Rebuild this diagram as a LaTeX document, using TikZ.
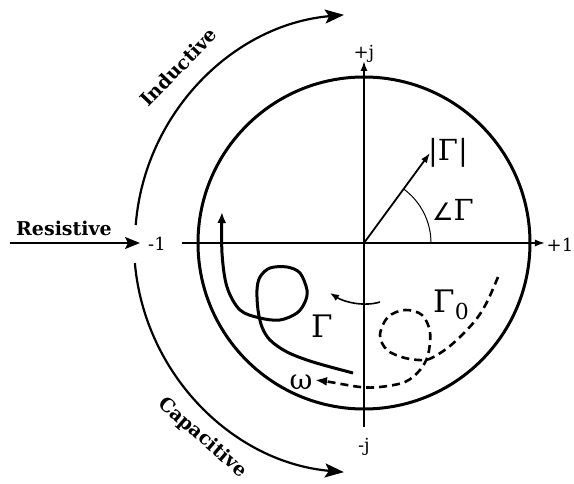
\documentclass[tikz,border=0pt]{standalone}
\usepackage{fontspec}
\setmainfont{DejaVu Serif}
\newfontfamily\symf{DejaVu Sans}
\usetikzlibrary{arrows.meta}
\tikzset{
  axis/.style={line width=1.6pt,-{Latex[length=10pt,width=7pt]}},
  bigarc/.style={line width=2.2pt,-{Stealth[length=19pt,width=14pt,inset=4pt]}},
  lbl/.style={inner sep=0pt,font=\fontsize{18}{20}\selectfont},
  bold/.style={inner sep=0pt,font=\fontsize{19}{21}\selectfont\bfseries},
  glbl/.style={inner sep=0pt,font=\fontsize{31}{34}\selectfont},
  curve/.style={line width=3pt,-{Latex[length=11pt,width=9pt]}},
}
\begin{document}
\begin{tikzpicture}[x=1pt,y=1pt]
\useasboundingbox (-364,-241) rectangle (210,243);
\coordinate (O) at (0,0);
% unit circle
\draw[line width=3pt] (O) circle[radius=166];
% axes
\coordinate (xl) at (-182,0);
\coordinate (xr) at (181,0);
\coordinate (yb) at (0,-184);
\coordinate (yt) at (0,182);
\draw[axis] (xl) -- (xr);
\draw[axis] (yb) -- (yt);
\node[lbl] (pj) at (0,189) {+j};
\node[lbl] (mj) at (0,-204) {-j};
\node[lbl] (p1) at (196,-2) {+1};
\node[lbl] (m1) at (-207,-1) {-1};
% resistive
\coordinate (rs) at (-354,0);
\coordinate (re) at (-224,0);
\draw[line width=2pt,-{Stealth[length=15pt,width=12pt,inset=3pt]}] (rs) -- (re);
\node[bold] (res) at (-300,15) {Resistive};
% inductive / capacitive arcs
\draw[bigarc] (175.5:229) arc[start angle=175.5,end angle=95,radius=229];
\draw[bigarc] (185:230) arc[start angle=185,end angle=265,radius=230];
\node[bold,rotate=46] (ind) at (136.5:256) {Inductive};
\node[bold,rotate=-41] (cap) at (230.3:253) {Capacitive};
% vector and angle
\coordinate (vt) at (66,90);
\draw[line width=1.8pt,-{Latex[length=10pt,width=7pt]}] (O) -- (vt);
\draw[line width=1pt] (67,0) arc[start angle=0,end angle=53.7,radius=67];
\node[glbl,font=\fontsize{29}{32}\selectfont] (mag) at (84,90) {|Γ|};
\node[glbl,font=\fontsize{29}{32}\selectfont] (ang) at (89,33) {{\symf\fontsize{24}{26}\selectfont ∠}Γ};
% Gamma curve
\draw[curve] plot[smooth,tension=0.55] coordinates {
 (-11,-130) (-51,-119) (-77,-109) (-94,-97) (-102,-84) (-106,-67)
 (-107,-47) (-104,-34) (-94,-25) (-77,-24) (-64,-30) (-57,-47)
 (-59,-59) (-67,-70) (-84,-77) (-104,-75) (-124,-67) (-137,-44)
 (-142,-10) (-142,31)};
\node[glbl] (g) at (-42,-83) {Γ};
% small rotation arrow
\coordinate (sa) at (16,-59);
\coordinate (sb) at (-34,-50);
\draw[line width=1.6pt,-{Latex[length=9pt,width=7pt]}] (sa) .. controls (0,-64) and (-20,-59) .. (sb);
% Gamma0 dashed curve
\draw[line width=2.6pt,dash pattern=on 8pt off 5pt,-{Latex[length=12pt,width=9pt]}] plot[smooth,tension=0.55] coordinates {
 (134,-34) (124,-57) (114,-74) (101,-89) (86,-103) (73,-112) (61,-117)
 (41,-115) (23,-107) (16,-92) (24,-74) (41,-67) (58,-72) (66,-89)
 (64,-112) (56,-127) (41,-139) (16,-144) (-4,-144) (-34,-139) (-49,-137)};
\node[glbl] (g0) at (87,-62) {Γ\raisebox{-7pt}{\fontsize{22}{24}\selectfont 0}};
\node[glbl,font=\fontsize{28}{30}\selectfont] (w) at (-63,-139) {ω};
\end{tikzpicture}
\end{document}
